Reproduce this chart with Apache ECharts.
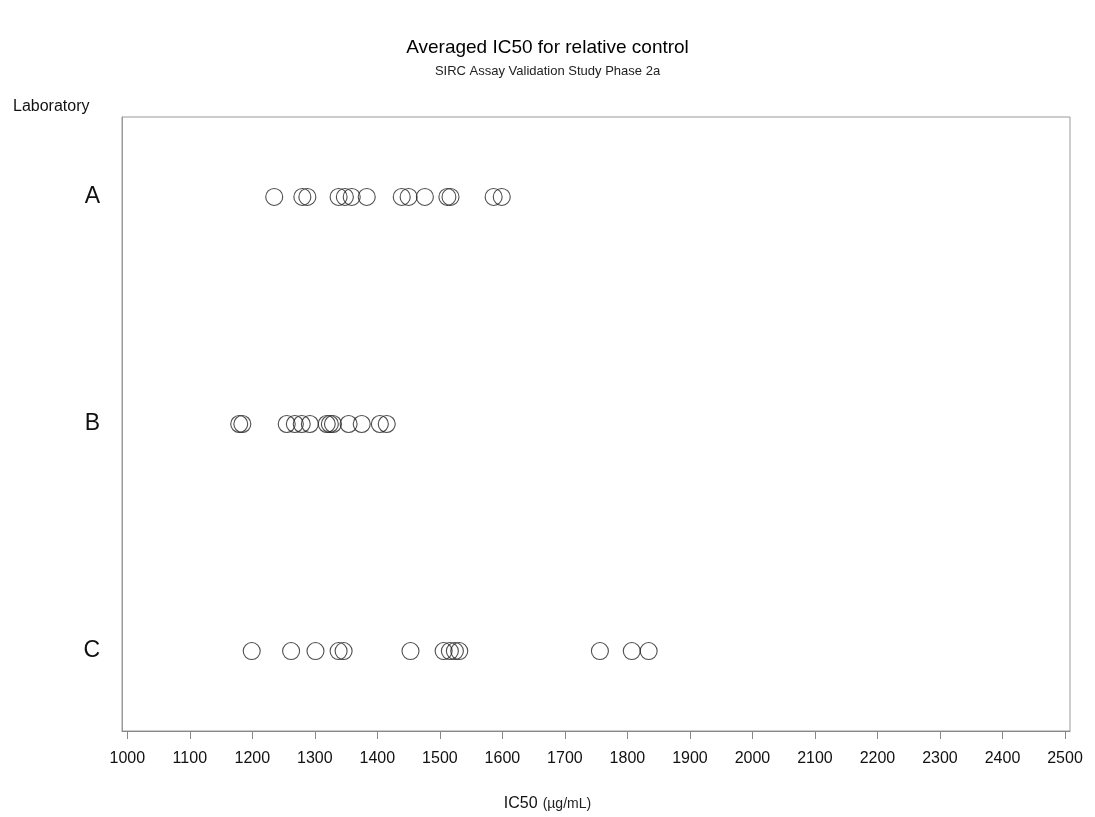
<!DOCTYPE html>
<html>
<head>
<meta charset="utf-8">
<title>Averaged IC50 for relative control</title>
<script src="https://cdn.jsdelivr.net/npm/echarts@6/dist/echarts.min.js"></script>
<style>
  html, body { margin: 0; padding: 0; background: #fff; }
  #chart { width: 1095px; height: 817px; }
</style>
</head>
<body>
<div id="chart"></div>
<script>
// laboratories, top to bottom (y position value)
var labs = ['A', 'B', 'C'];
var labPos = [3, 2, 1];

// averaged IC50 values (ug/mL)
var labA = [1235, 1280, 1288, 1338, 1348, 1359, 1383, 1439, 1450, 1476, 1512, 1517, 1586, 1599];
var labB = [1179, 1184, 1255, 1268, 1279, 1292, 1319, 1324, 1329, 1354, 1375, 1404, 1415];
var labC = [1199, 1262, 1301, 1338, 1346, 1453, 1506, 1516, 1524, 1531, 1756, 1807, 1834];

var xTicks = [1000, 1100, 1200, 1300, 1400, 1500, 1600, 1700, 1800, 1900, 2000, 2100, 2200, 2300, 2400, 2500];

var font = '"Liberation Sans", Arial, sans-serif';

function toPoints(values, y) {
    return values.map(function(v) { return [v, y]; });
}

var chart = echarts.init(document.getElementById('chart'));

chart.setOption({
    backgroundColor: '#fff',
    animation: false,
    title: [{
        text: 'Averaged IC50 for relative control',
        left: 'center',
        top: 33,
        textStyle: { fontFamily: font, fontSize: 19, fontWeight: 'normal', color: '#000' }
    }, {
        text: 'SIRC Assay Validation Study Phase 2a',
        left: 'center',
        top: 60,
        textStyle: { fontFamily: font, fontSize: 13, fontWeight: 'normal', color: '#222' }
    }, {
        text: 'Laboratory',
        left: 8,
        top: 94,
        textStyle: { fontFamily: font, fontSize: 16, fontWeight: 'normal', color: '#111' }
    }, {
        text: '{a|IC50} {b|(\u00b5g/mL)}',
        left: 'center',
        top: 790,
        textStyle: {
            rich: {
                a: { fontFamily: font, fontSize: 16, fontWeight: 'normal', color: '#111' },
                b: { fontFamily: font, fontSize: 14, fontWeight: 'normal', color: '#222' }
            }
        }
    }],
    grid: {
        left: 122, right: 25, top: 117, bottom: 86,
        show: true,
        borderColor: '#999',
        borderWidth: 1
    },
    xAxis: {
        type: 'value',
        min: 991.5,
        max: 2508,
        axisLine: { show: true, lineStyle: { color: '#888' } },
        axisTick: { show: true, inside: false, length: 8, lineStyle: { color: '#888' }, customValues: xTicks },
        axisLabel: {
            margin: 20,
            fontFamily: font, fontSize: 16, color: '#111',
            customValues: xTicks,
            formatter: function(v) { return String(Math.round(v)); }
        },
        splitLine: { show: false }
    },
    yAxis: {
        type: 'value',
        min: 0.648,
        max: 3.352,
        axisLine: { show: true, lineStyle: { color: '#999' } },
        axisTick: { show: false },
        axisLabel: {
            margin: 22,
            fontFamily: font, fontSize: 23, color: '#111',
            customValues: labPos,
            formatter: function(v) { return labs[labPos.indexOf(Math.round(v))] || ''; }
        },
        splitLine: { show: false }
    },
    series: [labA, labB, labC].map(function(vals, i) {
        return {
            type: 'scatter',
            name: labs[i],
            symbol: 'circle',
            symbolSize: 17,
            itemStyle: { color: 'rgba(0,0,0,0)', borderColor: '#222', borderWidth: 1.1 },
            data: toPoints(vals, labPos[i])
        };
    })
});
</script>
</body>
</html>
